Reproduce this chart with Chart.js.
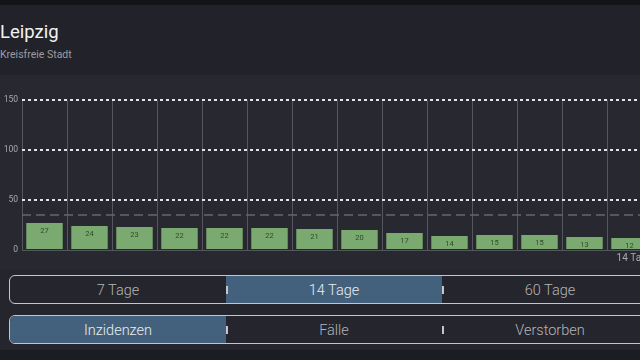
<!DOCTYPE html>
<html><head><meta charset="utf-8">
<script src="https://cdn.jsdelivr.net/npm/chart.js@4"></script>
<style>
html,body{margin:0;padding:0;width:640px;height:360px;overflow:hidden;background:#1c1d22;font-family:Roboto,"Noto Sans",sans-serif;}
#top{position:absolute;left:0;top:0;width:640px;height:5px;background:#131418;}
#head{position:absolute;left:0;top:5px;width:640px;height:70px;background:#22232a;}
#title{position:absolute;left:0;top:16px;font-size:18.5px;color:#f2f2f2;}
#sub{position:absolute;left:0;top:43px;font-size:10.5px;color:#9c9ca2;}
#panel{position:absolute;left:0;top:75px;width:640px;height:195px;background:#282930;}
#lower{position:absolute;left:0;top:270px;width:640px;height:80px;background:#25262d;}
#wrap{position:absolute;left:0;top:80px;width:652px;height:190px;}
.seg{position:absolute;left:9px;width:648px;height:27px;border:1.5px solid #c6c6ca;border-radius:6px;overflow:hidden;display:flex;box-sizing:content-box;}
.seg div{flex:1;text-align:center;line-height:30px;font-size:14.5px;color:#b4b4b8;position:relative;font-weight:300;}
.seg div.sel{background:#43617c;color:#e8eef3;}
.seg div.sep:before{content:"";position:absolute;left:0;top:10px;width:1.5px;height:8px;background:#c6c6ca;}
</style></head><body>
<div id="top"></div>
<div id="head"><div id="title">Leipzig</div><div id="sub">Kreisfreie Stadt</div></div>
<div id="panel"></div>
<div id="lower"></div>
<div id="wrap"><canvas id="c" width="652" height="190"></canvas></div>
<div class="seg" style="top:275px"><div>7 Tage</div><div class="sel sep">14 Tage</div><div class="sep">60 Tage</div></div>
<div class="seg" style="top:315px"><div class="sel">Inzidenzen</div><div class="sep">Fälle</div><div class="sep">Verstorben</div></div>
<script>
const days = ["1","2","3","4","5","6","7","8","9","10","11","12","13","14"];
const incidence = [27,24,23,22,22,22,21,20,17,14,15,15,13,12];
const yTicks = [0,50,100,150];
const threshold = 35;
const axisTitle = "14 Tage";

const overlay = {
  id:'overlay',
  beforeDatasetsDraw(chart){
    const {ctx, chartArea:a, scales:{y}} = chart;
    const py = y.getPixelForValue(threshold);
    ctx.save();
    ctx.strokeStyle = '#65666d';
    ctx.lineWidth = 1.5;
    ctx.setLineDash([9,5]);
    ctx.beginPath(); ctx.moveTo(a.left, py); ctx.lineTo(a.right, py); ctx.stroke();
    ctx.restore();
  },
  afterDatasetsDraw(chart){
    const {ctx} = chart;
    const meta = chart.getDatasetMeta(0);
    ctx.save();
    ctx.fillStyle = '#2f4a2c';
    ctx.font = '7.5px Roboto, sans-serif';
    ctx.textAlign = 'center';
    ctx.textBaseline = 'middle';
    meta.data.forEach((bar,i)=>{
      ctx.fillText(String(incidence[i]), bar.x, bar.y + 8);
    });
    ctx.restore();
  }
};

new Chart(document.getElementById('c'), {
  type:'bar',
  data:{labels:days, datasets:[{data:incidence, backgroundColor:'#7aaa70', borderWidth:0, categoryPercentage:0.81, barPercentage:1}]},
  options:{
    responsive:false, animation:false,
    layout:{padding:{top:20,left:0,right:0,bottom:6}},
    plugins:{legend:{display:false}, tooltip:{enabled:false}},
    scales:{
      x:{
        offset:true,
        ticks:{display:false},
        grid:{color:'#55565e', lineWidth:1, drawTicks:false, offset:true},
        border:{color:'#55565e'},
        title:{display:true, text:axisTitle, align:'end', color:'#a8a8ae', font:{size:10, family:'Roboto'}, padding:{top:1,bottom:0}},
        afterFit(s){ s.height = 14; }
      },
      y:{
        min:0, max:150,
        afterBuildTicks(s){ s.ticks = yTicks.map(v=>({value:v})); },
        ticks:{color:'#a8a8ae', font:{size:8.5, family:'Roboto'}, padding:4},
        grid:{color:(c)=> c.tick && c.tick.value===0 ? 'rgba(0,0,0,0)' : '#e4e4e6', lineWidth:2, drawTicks:false},
        border:{display:false, dash:[3,3]},
        afterFit(s){ s.width = 22; }
      }
    }
  },
  plugins:[overlay]
});
</script>
</body></html>
